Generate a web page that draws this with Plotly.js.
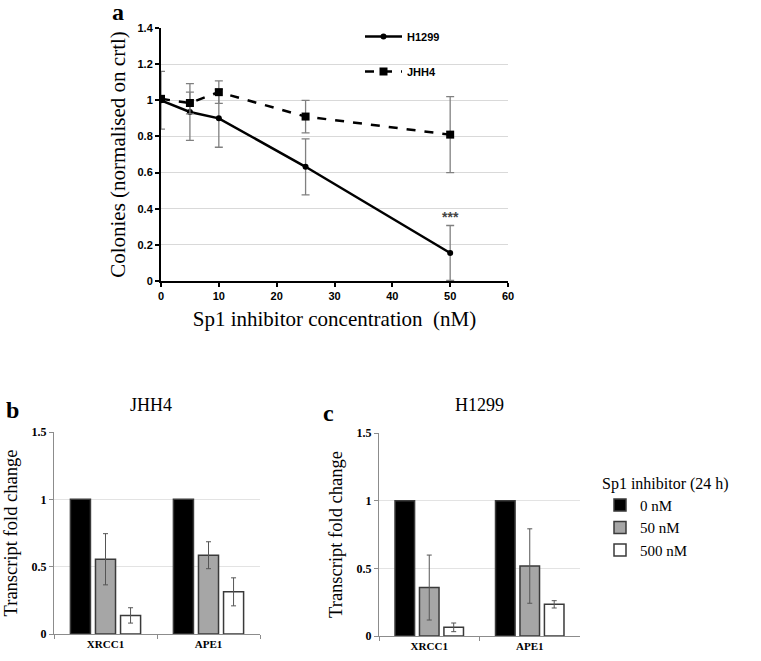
<!DOCTYPE html>
<html><head><meta charset="utf-8">
<script src="https://cdn.plot.ly/plotly-3.0.1.min.js"></script>
<style>html,body{margin:0;padding:0;background:#fff}#c{width:761px;height:661px}</style>
</head><body><div id="c"></div>
<script>
// Panel a data
const conc = [0, 5, 10, 25, 50];
const h1299Colonies = [1.0, 0.935, 0.90, 0.632, 0.155];
const h1299ColoniesErr = [0.16, 0.157, 0.16, 0.155, 0.152];
const jhh4Colonies = [1.008, 0.985, 1.045, 0.91, 0.81];
const jhh4ColoniesErr = [0, 0.06, 0.062, 0.09, 0.21];
const aXTicks = [0, 10, 20, 30, 40, 50, 60];
const aYTicks = [0, 0.2, 0.4, 0.6, 0.8, 1, 1.2, 1.4];

// Panels b / c data
const genes = ['XRCC1', 'APE1'];
const doses = ['0 nM', '50 nM', '500 nM'];
const jhh4_0 = [1, 1];
const jhh4_50 = [0.555, 0.585];
const jhh4_50Err = [0.19, 0.10];
const jhh4_500 = [0.138, 0.313];
const jhh4_500Err = [0.057, 0.104];
const h1299_0 = [1, 1];
const h1299_50 = [0.358, 0.517];
const h1299_50Err = [0.24, 0.275];
const h1299_500 = [0.064, 0.234];
const h1299_500Err = [0.032, 0.027];
const bcYTicks = [0, 0.5, 1, 1.5];
const bcYTickText = ['0', '0.5', '1', '1.5'];

const serif = '"Liberation Serif", "Times New Roman", serif';
const sans = '"Liberation Sans", Arial, sans-serif';
const fills = ['#000000', '#a6a6a6', '#ffffff'];

const traces = [];
traces.push({
  x: conc, y: h1299Colonies, type: 'scatter', mode: 'lines+markers', name: 'H1299',
  xaxis: 'x', yaxis: 'y', legend: 'legend', legendgroup: 'g1',
  line: {color: '#000', width: 2.5}, marker: {symbol: 'circle', size: 6, color: '#000'},
  error_y: {type: 'data', array: h1299ColoniesErr, visible: true, color: '#808080', thickness: 1.3, width: 4}
});
traces.push({
  x: conc, y: jhh4Colonies, type: 'scatter', mode: 'lines+markers', name: 'JHH4',
  xaxis: 'x', yaxis: 'y', legend: 'legend', legendgroup: 'g2',
  line: {color: '#000', width: 2.5, dash: 'dash'}, marker: {symbol: 'square', size: 8, color: '#000'},
  error_y: {type: 'data', array: jhh4ColoniesErr, visible: true, color: '#808080', thickness: 1.3, width: 4}
});

const bSeries = [[jhh4_0, null], [jhh4_50, jhh4_50Err], [jhh4_500, jhh4_500Err]];
const cSeries = [[h1299_0, null], [h1299_50, h1299_50Err], [h1299_500, h1299_500Err]];
[[bSeries, 'x2', 'y2', true], [cSeries, 'x3', 'y3', false]].forEach(([ser, xa, ya, show]) => {
  ser.forEach((s, i) => {
    const t = {
      x: genes, y: s[0], type: 'bar', name: doses[i], xaxis: xa, yaxis: ya,
      legend: 'legend2', showlegend: show, legendgroup: 'd' + i,
      marker: {color: fills[i], line: {color: '#3a3a3a', width: 1.5}}
    };
    if (s[1]) t.error_y = {type: 'data', array: s[1], visible: true, color: '#555', thickness: 1, width: 2.5};
    traces.push(t);
  });
});

const bcY = (dom) => ({
  domain: dom, range: [0, 1.5], tickvals: bcYTicks, ticktext: bcYTickText,
  showline: true, linecolor: '#8c8c8c', linewidth: 1, ticks: 'outside', ticklen: 4, tickcolor: '#8c8c8c',
  showgrid: true, gridcolor: '#e3e3e3', zeroline: false,
  tickfont: {family: serif, size: 12, color: '#000', weight: 'bold'},
  title: {text: 'Transcript fold change', font: {family: serif, size: 18.5, color: '#000'}, standoff: 9}
});
const bcX = (dom, anchor) => ({
  domain: dom, anchor: anchor, type: 'category', range: [-0.5, 1.5],
  showline: true, linecolor: '#8c8c8c', linewidth: 1, ticks: 'outside', tickson: 'boundaries', ticklen: 4, tickcolor: '#8c8c8c',
  showgrid: false, tickfont: {family: serif, size: 11, color: '#000', weight: 'bold'}
});

const layout = {
  width: 761, height: 661, margin: {l: 0, r: 0, t: 0, b: 0},
  paper_bgcolor: '#fff', plot_bgcolor: 'rgba(0,0,0,0)',
  bargap: 0.27, bargroupgap: 0.2, barmode: 'group',
  xaxis: {
    domain: [161/761, 508/761], anchor: 'y', range: [0, 60], tickvals: aXTicks,
    showline: true, linecolor: '#000', linewidth: 2, ticks: 'outside', ticklen: 4, tickwidth: 2, tickcolor: '#000',
    showgrid: false, zeroline: false,
    tickfont: {family: sans, size: 11, color: '#000', weight: 'bold'},
    title: {text: 'Sp1 inhibitor concentration  (nM)', font: {family: serif, size: 21, color: '#000'}, standoff: 10}
  },
  yaxis: {
    domain: [1 - 281/661, 1 - 28/661], anchor: 'x', range: [0, 1.4], tickvals: aYTicks,
    showline: true, linecolor: '#000', linewidth: 2, ticks: 'outside', ticklen: 4, tickwidth: 2, tickcolor: '#000',
    showgrid: true, gridcolor: '#d9d9d9', zeroline: false,
    tickfont: {family: sans, size: 11, color: '#000', weight: 'bold'},
    title: {text: 'Colonies (normalised on crtl)', font: {family: serif, size: 21, color: '#000'}, standoff: 6}
  },
  xaxis2: bcX([54/761, 260/761], 'y2'),
  yaxis2: Object.assign(bcY([1 - 634/661, 1 - 432/661]), {anchor: 'x2'}),
  xaxis3: bcX([379/761, 580/761], 'y3'),
  yaxis3: Object.assign(bcY([1 - 636/661, 1 - 433/661]), {anchor: 'x3'}),
  legend: {
    x: 360/761, y: 1 - 22/661, xanchor: 'left', yanchor: 'top', bgcolor: 'rgba(0,0,0,0)',
    font: {family: sans, size: 11, color: '#000', weight: 'bold'}, tracegroupgap: 16, itemwidth: 37
  },
  legend2: {
    x: 600/761, y: 1 - 468/661, xanchor: 'left', yanchor: 'top', bgcolor: 'rgba(0,0,0,0)',
    title: {text: 'Sp1 inhibitor (24 h)', font: {family: serif, size: 16, color: '#000'}},
    font: {family: serif, size: 15, color: '#000'}, tracegroupgap: 0, traceorder: 'normal', itemwidth: 30
  },
  annotations: [
    {text: '<b>a</b>', xref: 'paper', yref: 'paper', x: 110/761, y: 1 - 12/661, xanchor: 'left', yanchor: 'middle', showarrow: false, font: {family: serif, size: 24, color: '#000'}},
    {text: '<b>b</b>', xref: 'paper', yref: 'paper', x: 4/761, y: 1 - 410/661, xanchor: 'left', yanchor: 'middle', showarrow: false, font: {family: serif, size: 24, color: '#000'}},
    {text: '<b>c</b>', xref: 'paper', yref: 'paper', x: 321/761, y: 1 - 413/661, xanchor: 'left', yanchor: 'middle', showarrow: false, font: {family: serif, size: 24, color: '#000'}},
    {text: 'JHH4', xref: 'x2 domain', yref: 'paper', x: 0.47, y: 1 - 405/661, xanchor: 'center', yanchor: 'middle', showarrow: false, font: {family: serif, size: 18, color: '#000'}},
    {text: 'H1299', xref: 'x3 domain', yref: 'paper', x: 0.5, y: 1 - 405/661, xanchor: 'center', yanchor: 'middle', showarrow: false, font: {family: serif, size: 18, color: '#000'}},
    {text: '***', xref: 'x', yref: 'y', x: conc[4], y: h1299Colonies[4] + h1299ColoniesErr[4] + 0.045, xanchor: 'center', yanchor: 'middle', showarrow: false, font: {family: sans, size: 14, color: '#444', weight: 'bold'}}
  ]
};

Plotly.newPlot('c', traces, layout, {displayModeBar: false, staticPlot: true});
</script></body></html>
